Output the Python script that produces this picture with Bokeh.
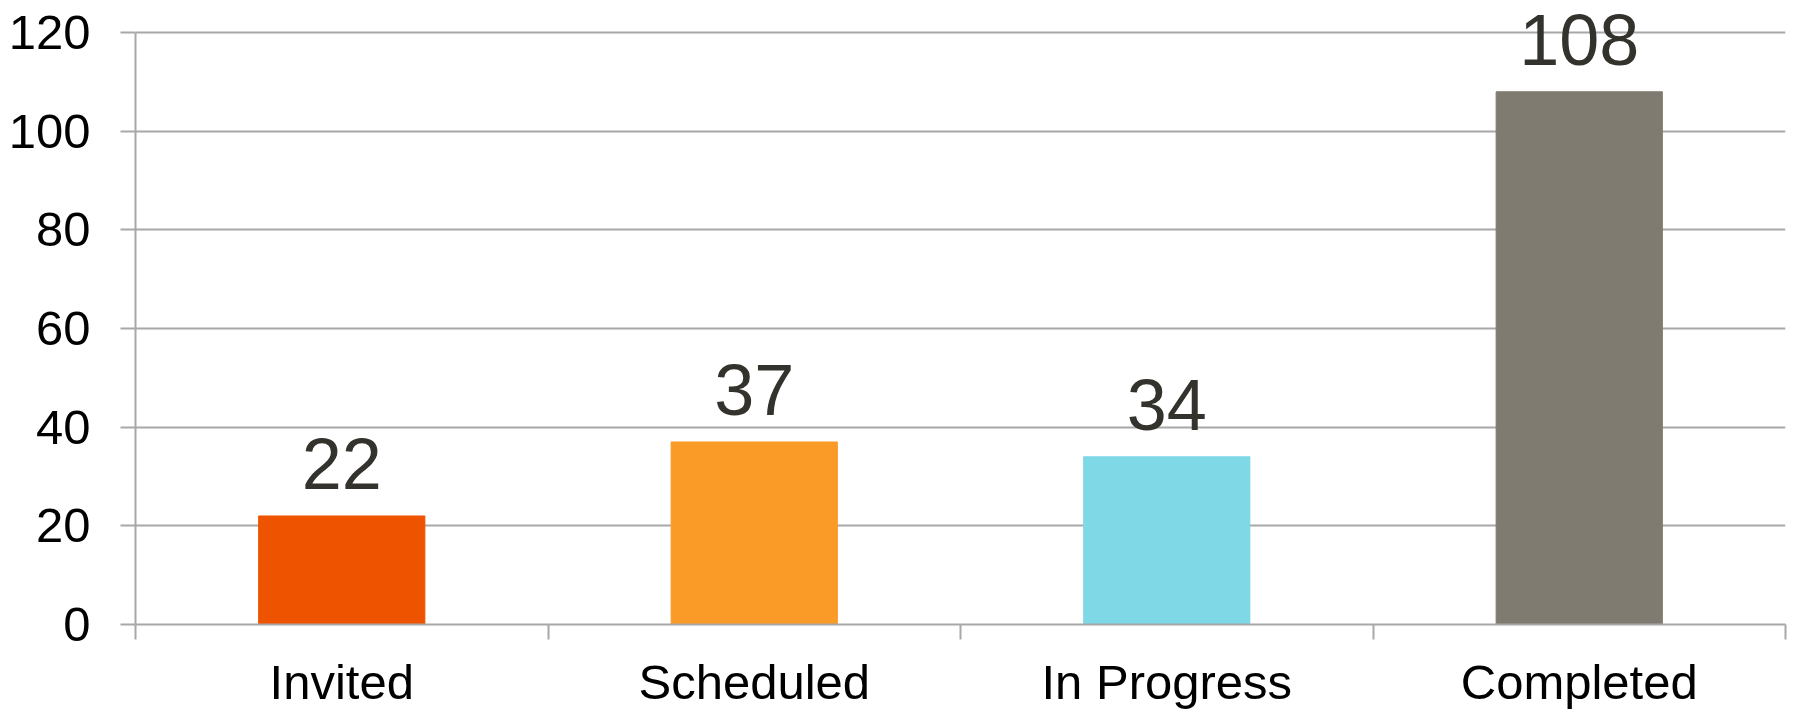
from bokeh.plotting import figure
from bokeh.models import Range1d, FixedTicker, ColumnDataSource, LabelSet
from bokeh.core.properties import value
from bokeh.embed import file_html
from bokeh.resources import INLINE

categories = ["Invited", "Scheduled", "In Progress", "Completed"]
values = [22, 37, 34, 108]
colors = ["#EE5400", "#FA9B28", "#7ED8E6", "#807B70"]
y_ticks = [0, 20, 40, 60, 80, 100, 120]

FONT = "Liberation Sans"

positions = [i + 0.5 for i in range(len(categories))]
source = ColumnDataSource(dict(x=positions, top=values, color=colors,
                               label=[str(v) for v in values]))

# headroom above the 120 gridline so that the "108" label is not clipped
y_top = 126.5

p = figure(width=1794, height=711, output_backend="svg", toolbar_location=None,
           x_range=Range1d(0, len(categories)), y_range=Range1d(0, y_top),
           min_border_left=135, min_border_right=9, min_border_top=0,
           min_border_bottom=87)
p.outline_line_color = None
p.background_fill_color = "white"
p.border_fill_color = "white"

p.vbar(x="x", top="top", width=0.403, bottom=0, color="color", source=source)

labels = LabelSet(x="x", y="top", text="label", source=source,
                  text_align="center", text_baseline="alphabetic", y_offset=27,
                  text_font=value(FONT), text_font_size="72px", text_color="#34322C")
p.add_layout(labels)

# y axis
p.yaxis.ticker = FixedTicker(ticks=y_ticks)
p.yaxis.bounds = (0, 120)
p.yaxis.major_tick_out = 15
p.yaxis.major_tick_in = 0
p.yaxis.minor_tick_line_color = None
p.yaxis.axis_line_color = "#A8A8A8"
p.yaxis.axis_line_width = 2
p.yaxis.major_tick_line_color = "#A8A8A8"
p.yaxis.major_tick_line_width = 2
p.yaxis.major_label_standoff = 30
p.yaxis.major_label_text_font = FONT
p.yaxis.major_label_text_font_size = "49px"
p.yaxis.major_label_text_color = "black"

# x axis
p.xaxis.ticker = FixedTicker(ticks=positions, minor_ticks=list(range(len(categories) + 1)))
p.xaxis.major_label_overrides = {pos: c for pos, c in zip(positions, categories)}
p.xaxis.major_tick_line_color = None
p.xaxis.major_tick_out = 15
p.xaxis.major_tick_in = 0
p.xaxis.minor_tick_out = 15
p.xaxis.minor_tick_in = 0
p.xaxis.minor_tick_line_color = "#A8A8A8"
p.xaxis.minor_tick_line_width = 2
p.xaxis.axis_line_color = "#A8A8A8"
p.xaxis.axis_line_width = 2
p.xaxis.major_label_standoff = 15
p.xaxis.major_label_text_font = FONT
p.xaxis.major_label_text_font_size = "49px"
p.xaxis.major_label_text_color = "black"

p.xgrid.grid_line_color = None
p.ygrid.ticker = FixedTicker(ticks=y_ticks)
p.ygrid.grid_line_color = "#A8A8A8"
p.ygrid.grid_line_width = 2

open("out.html", "w").write(file_html(p, INLINE))
